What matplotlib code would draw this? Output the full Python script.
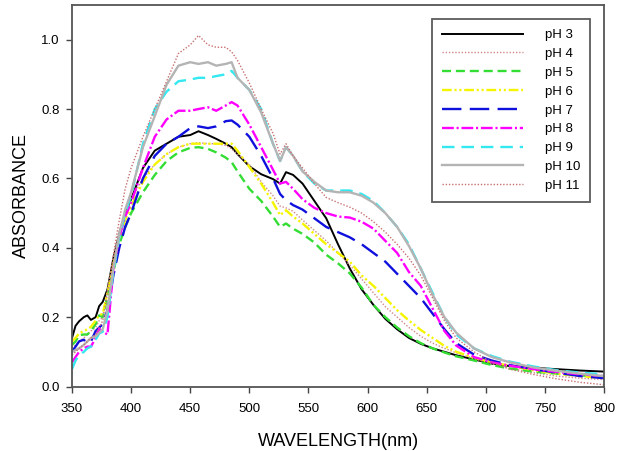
import numpy as np
import matplotlib
matplotlib.use("Agg")
import matplotlib.pyplot as plt

plt.rcParams['font.family'] = ['Liberation Sans', 'DejaVu Sans']
plt.rcParams['lines.scale_dashes'] = False

# wavelength grid (nm)
wl = [350, 353, 356, 360, 363, 366, 370, 373, 376, 380, 385, 390, 395, 400,
      410, 420, 430, 440, 450, 457, 465, 472, 480, 485, 490, 500, 510, 520,
      526, 531, 537, 545, 555, 565, 575, 585, 595, 605, 615, 625, 635, 645,
      655, 665, 675, 690, 705, 720, 740, 760, 780, 800]

ph3 = [0.14, 0.175, 0.188, 0.20, 0.205, 0.192, 0.20, 0.232, 0.244, 0.28, 0.37, 0.44, 0.50, 0.54,
       0.63, 0.68, 0.70, 0.72, 0.725, 0.736, 0.725, 0.714, 0.70, 0.69, 0.67, 0.635, 0.612, 0.598,
       0.585, 0.618, 0.61, 0.585, 0.535, 0.485, 0.41, 0.34, 0.28, 0.235, 0.195, 0.165, 0.14, 0.123,
       0.11, 0.10, 0.09, 0.078, 0.066, 0.059, 0.054, 0.05, 0.046, 0.043]
ph4 = [0.11, 0.12, 0.13, 0.14, 0.15, 0.16, 0.17, 0.19, 0.20, 0.28, 0.37, 0.45, 0.50, 0.54,
       0.60, 0.64, 0.67, 0.69, 0.70, 0.703, 0.70, 0.70, 0.695, 0.685, 0.67, 0.64, 0.59, 0.55,
       0.52, 0.515, 0.505, 0.48, 0.45, 0.42, 0.385, 0.35, 0.31, 0.27, 0.23, 0.20, 0.17, 0.145,
       0.125, 0.11, 0.097, 0.08, 0.066, 0.053, 0.04, 0.03, 0.024, 0.02]
ph5 = [0.12, 0.13, 0.148, 0.15, 0.15, 0.16, 0.18, 0.205, 0.20, 0.26, 0.33, 0.41, 0.46, 0.50,
       0.56, 0.61, 0.65, 0.675, 0.688, 0.69, 0.685, 0.675, 0.66, 0.647, 0.62, 0.57, 0.535, 0.49,
       0.46, 0.47, 0.455, 0.44, 0.415, 0.38, 0.355, 0.326, 0.285, 0.235, 0.20, 0.17, 0.145, 0.125,
       0.11, 0.098, 0.087, 0.075, 0.062, 0.052, 0.043, 0.037, 0.032, 0.028]
ph6 = [0.13, 0.14, 0.153, 0.16, 0.165, 0.172, 0.19, 0.205, 0.21, 0.27, 0.35, 0.43, 0.48, 0.52,
       0.59, 0.64, 0.67, 0.69, 0.70, 0.70, 0.70, 0.70, 0.70, 0.70, 0.68, 0.633, 0.585, 0.53,
       0.494, 0.508, 0.49, 0.47, 0.44, 0.41, 0.385, 0.36, 0.32, 0.29, 0.255, 0.22, 0.19, 0.163,
       0.14, 0.117, 0.10, 0.083, 0.07, 0.06, 0.047, 0.037, 0.03, 0.024]
ph7 = [0.10, 0.115, 0.13, 0.135, 0.124, 0.13, 0.16, 0.17, 0.18, 0.22, 0.32, 0.40, 0.46, 0.50,
       0.60, 0.665, 0.70, 0.72, 0.745, 0.75, 0.745, 0.75, 0.765, 0.767, 0.755, 0.72, 0.665, 0.60,
       0.555, 0.537, 0.523, 0.51, 0.485, 0.46, 0.445, 0.43, 0.41, 0.385, 0.36, 0.325, 0.29, 0.255,
       0.21, 0.165, 0.125, 0.092, 0.075, 0.062, 0.05, 0.04, 0.03, 0.024]
ph8 = [0.07, 0.085, 0.10, 0.11, 0.115, 0.115, 0.14, 0.167, 0.158, 0.15, 0.34, 0.43, 0.49, 0.53,
       0.63, 0.72, 0.77, 0.795, 0.795, 0.80, 0.805, 0.795, 0.81, 0.82, 0.81, 0.755, 0.69, 0.625,
       0.585, 0.59, 0.57, 0.54, 0.515, 0.50, 0.49, 0.487, 0.475, 0.455, 0.42, 0.385, 0.33, 0.29,
       0.225, 0.16, 0.118, 0.085, 0.07, 0.06, 0.05, 0.042, 0.035, 0.03]
ph9 = [0.05, 0.075, 0.09, 0.10, 0.11, 0.115, 0.135, 0.153, 0.158, 0.20, 0.33, 0.43, 0.50, 0.55,
       0.70, 0.80, 0.85, 0.88, 0.885, 0.89, 0.89, 0.895, 0.90, 0.91, 0.89, 0.855, 0.80, 0.70,
       0.65, 0.69, 0.665, 0.62, 0.585, 0.565, 0.565, 0.565, 0.555, 0.535, 0.50, 0.46, 0.41, 0.34,
       0.27, 0.20, 0.15, 0.11, 0.088, 0.072, 0.058, 0.047, 0.04, 0.035]
ph10 = [0.10, 0.105, 0.11, 0.12, 0.13, 0.14, 0.145, 0.155, 0.165, 0.22, 0.34, 0.44, 0.51, 0.56,
        0.69, 0.78, 0.87, 0.925, 0.935, 0.93, 0.935, 0.925, 0.93, 0.935, 0.89, 0.855, 0.79, 0.70,
        0.65, 0.69, 0.665, 0.62, 0.59, 0.565, 0.56, 0.56, 0.55, 0.53, 0.50, 0.46, 0.405, 0.34,
        0.265, 0.20, 0.155, 0.11, 0.085, 0.07, 0.055, 0.045, 0.037, 0.03]
ph11 = [0.09, 0.10, 0.11, 0.12, 0.13, 0.14, 0.15, 0.17, 0.19, 0.27, 0.38, 0.48, 0.57, 0.63,
        0.72, 0.80, 0.88, 0.96, 0.985, 1.012, 0.985, 0.978, 0.978, 0.965, 0.94, 0.875, 0.80, 0.73,
        0.67, 0.70, 0.665, 0.63, 0.585, 0.545, 0.53, 0.517, 0.50, 0.475, 0.445, 0.41, 0.37, 0.32,
        0.255, 0.19, 0.14, 0.10, 0.07, 0.05, 0.035, 0.022, 0.012, 0.005]

labels = ["pH 3", "pH 4", "pH 5", "pH 6", "pH 7", "pH 8", "pH 9", "pH 10", "pH 11"]
series = [ph3, ph4, ph5, ph6, ph7, ph8, ph9, ph10, ph11]
colors = ["black", "#d08888", "#33dd33", "#f5f500", "#1010dd", "#ff00ff", "#33e8f0", "#b4b4b4", "#c87070"]
styles = ["-", (0, (1, 1.3)), (0, (6.5, 3.5)), (0, (7, 2, 1.5, 2, 1.5, 2)), (0, (14, 6)),
          (0, (8.5, 2, 1.5, 2)), (0, (9, 5)), "-", (0, (1, 1.3))]
widths = [1.4, 1.0, 1.7, 1.7, 1.7, 1.7, 1.7, 1.7, 1.0]

fig = plt.figure(figsize=(6.17, 4.51), dpi=100)
ax = fig.add_axes([0.1167, 0.143, 0.8623, 0.846])

for y, lab, c, ls, lw in zip(series, labels, colors, styles, widths):
    ax.plot(wl, y, color=c, linestyle=ls, linewidth=lw, label=lab)

ax.set_xlim(350, 800)
ax.set_ylim(0, 1.1)
ax.set_xticks(np.arange(350, 801, 50))
ax.set_yticks([0.0, 0.2, 0.4, 0.6, 0.8, 1.0])
ax.set_yticklabels(["0.0", "0.2", "0.4", "0.6", "0.8", "1.0"])
ax.tick_params(labelsize=9.5, length=4, width=1, color="#444444", direction="out")
ax.tick_params(axis="x", pad=8)
ax.tick_params(axis="y", pad=5)
for sp in ax.spines.values():
    sp.set_color("#555555")
    sp.set_linewidth(1.3)

ax.set_xlabel("WAVELENGTH(nm)", fontsize=13, labelpad=13)
ax.set_ylabel("ABSORBANCE", fontsize=13, labelpad=8)

leg = ax.legend(loc="upper right", bbox_to_anchor=(0.974, 0.963), borderaxespad=0,
                fontsize=9.5, handlelength=6.1, handletextpad=1.7, labelspacing=0.5,
                fancybox=False, frameon=True, borderpad=0.75)
leg.get_frame().set_edgecolor("#333333")
leg.get_frame().set_linewidth(1.3)

fig.savefig("out.png", dpi=100)
